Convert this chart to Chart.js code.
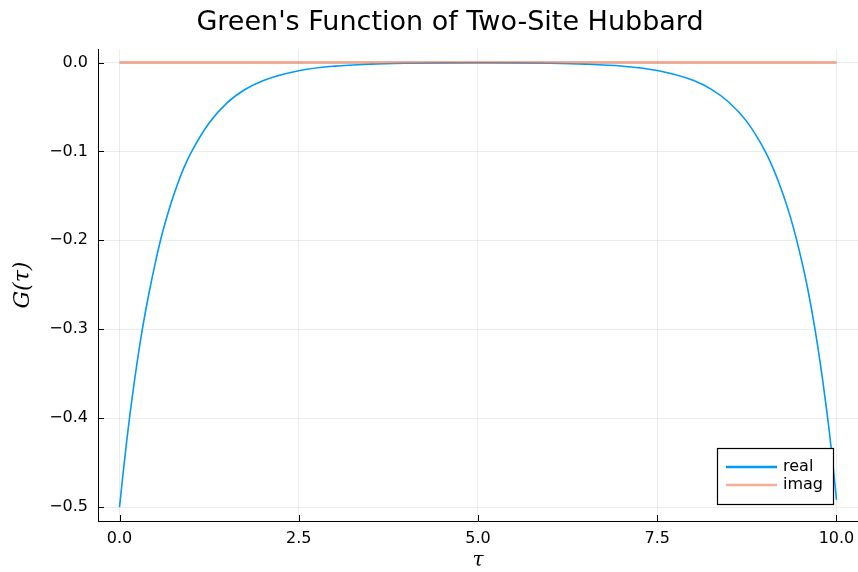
<!DOCTYPE html>
<html>
<head>
<meta charset="utf-8">
<script src="https://cdn.jsdelivr.net/npm/chart.js@4"></script>
<style>
  html, body { margin: 0; padding: 0; background: #fff; }
</style>
</head>
<body>
<canvas id="greenChart" width="858" height="572"></canvas>
<script>
// imaginary time grid and G(tau)
const tau = [0, 0.05, 0.1, 0.15, 0.2, 0.3, 0.4, 0.5, 0.6, 0.7, 0.8, 0.9, 1.0, 1.25, 1.5, 1.75, 2.0, 2.5, 3.0, 3.5, 4.0, 4.5, 5.0,
             5.5, 6.0, 6.5, 7.0, 7.5, 8.0, 8.25, 8.5, 8.75, 9.0, 9.1, 9.2, 9.3, 9.4, 9.5, 9.6, 9.7, 9.8, 9.85, 9.9, 9.95, 10.0];
const realG = [-0.500, -0.462, -0.426, -0.393, -0.363, -0.309, -0.264, -0.225, -0.191, -0.163, -0.139, -0.118, -0.101, -0.068, -0.0454, -0.0304, -0.0204, -0.0092, -0.0041, -0.0018, -0.0008, -0.0004, -0.0003,
               -0.0004, -0.0008, -0.0018, -0.0040, -0.0090, -0.0200, -0.0300, -0.0447, -0.0665, -0.099, -0.116, -0.136, -0.159, -0.186, -0.218, -0.255, -0.300, -0.353, -0.383, -0.415, -0.452, -0.492];
const imagG = [0, 0, 0, 0, 0, 0, 0, 0, 0, 0, 0, 0, 0, 0, 0, 0, 0, 0, 0, 0, 0, 0, 0,
               0, 0, 0, 0, 0, 0, 0, 0, 0, 0, 0, 0, 0, 0, 0, 0, 0, 0, 0, 0, 0, 0];
const xTicks = [0, 2.5, 5, 7.5, 10];
const yTicks = [-0.5, -0.4, -0.3, -0.2, -0.1, 0];

const fmt = v => (v < 0 ? '\u2212' : '') + Math.abs(v).toFixed(1);

// title sits a bit right of the canvas centre in the original
const titleShift = {
    id: 'titleShift',
    afterLayout(chart) {
        if (chart.titleBlock) {
            chart.titleBlock.left += 21;
            chart.titleBlock.right += 21;
        }
    }
};

// Plots.jl style ticks point into the plot
const innerTicks = {
    id: 'innerTicks',
    afterDatasetsDraw(chart) {
        const { ctx, chartArea: a, scales: { x, y } } = chart;
        ctx.save();
        ctx.strokeStyle = '#000';
        ctx.lineWidth = 1;
        ctx.beginPath();
        x.ticks.forEach(t => {
            const px = Math.round(x.getPixelForValue(t.value)) + 0.5;
            ctx.moveTo(px, a.bottom);
            ctx.lineTo(px, a.bottom - 6);
        });
        y.ticks.forEach(t => {
            const py = Math.round(y.getPixelForValue(t.value)) + 0.5;
            ctx.moveTo(a.left, py);
            ctx.lineTo(a.left + 6, py);
        });
        ctx.stroke();
        ctx.restore();
    }
};

// legend box in the bottom right corner of the plot area
const cornerLegend = {
    id: 'cornerLegend',
    afterDraw(chart) {
        const { ctx, chartArea: a } = chart;
        const w = 116, h = 56;
        const left = a.right - 25 - w, top = a.bottom - 17 - h;
        ctx.save();
        ctx.fillStyle = '#fff';
        ctx.fillRect(left, top, w, h);
        ctx.strokeStyle = '#000';
        ctx.lineWidth = 1.2;
        ctx.strokeRect(left + 0.5, top + 0.5, w, h);
        ctx.font = '16px "DejaVu Sans"';
        ctx.textBaseline = 'middle';
        chart.data.datasets.forEach((ds, i) => {
            const yy = top + 19 + i * 18;
            ctx.strokeStyle = ds.borderColor;
            ctx.lineWidth = 2.5;
            ctx.beginPath();
            ctx.moveTo(left + 9, yy);
            ctx.lineTo(left + 60, yy);
            ctx.stroke();
            ctx.fillStyle = '#000';
            ctx.fillText(ds.label, left + 66, yy);
        });
        ctx.restore();
    }
};

const ctx = document.getElementById('greenChart').getContext('2d');
const greenChart = new Chart(ctx, {
    type: 'line',
    data: {
        datasets: [{
            label: 'real',
            data: tau.map((t, i) => ({ x: t, y: realG[i] })),
            borderColor: 'rgb(0, 154, 250)',
            borderWidth: 1.6,
            pointRadius: 0,
            fill: false,
            cubicInterpolationMode: 'monotone',
            order: 1
        },
        {
            label: 'imag',
            data: tau.map((t, i) => ({ x: t, y: imagG[i] })),
            borderColor: 'rgba(227, 111, 71, 0.55)',
            borderWidth: 3,
            pointRadius: 0,
            fill: false,
            order: 0
        }]
    },
    options: {
        responsive: false,
        animation: false,
        devicePixelRatio: 1,
        layout: { padding: { top: 2, left: 0, right: 0, bottom: 0 } },
        plugins: {
            legend: { display: false },
            tooltip: { enabled: false },
            title: {
                display: true,
                text: "Green's Function of Two-Site Hubbard",
                color: '#000',
                font: { family: 'DejaVu Sans', size: 27, weight: 'normal' },
                padding: { top: 5, bottom: 9.6 }
            }
        },
        scales: {
            x: {
                type: 'linear',
                min: -0.3,
                max: 10.3,
                afterBuildTicks: s => { s.ticks = xTicks.map(v => ({ value: v })); },
                afterFit: s => { s.height = 51; s.paddingLeft = 0; s.paddingRight = 0; },
                grid: { color: 'rgba(0,0,0,0.07)', drawTicks: false },
                border: { color: '#000', width: 1 },
                ticks: {
                    autoSkip: false, maxRotation: 0, padding: 8, color: '#000',
                    font: { family: 'DejaVu Sans', size: 16 },
                    callback: v => fmt(v)
                },
                title: {
                    display: true, text: 'τ', color: '#000', padding: { top: 0, bottom: -1 },
                    font: { family: 'DejaVu Serif', style: 'italic', size: 20 }
                }
            },
            y: {
                min: -0.5157,
                max: 0.0152,
                afterBuildTicks: s => { s.ticks = yTicks.map(v => ({ value: v })); },
                afterFit: s => { s.width = 98; },
                grid: { color: 'rgba(0,0,0,0.07)', drawTicks: false },
                border: { color: '#000', width: 1 },
                ticks: {
                    autoSkip: false, padding: 10, color: '#000',
                    font: { family: 'DejaVu Sans', size: 16 },
                    callback: v => fmt(v)
                },
                title: {
                    display: true, text: 'G(τ)', color: '#000', padding: { top: 10, bottom: 0 },
                    font: { family: 'DejaVu Serif', style: 'italic', size: 22 }
                }
            }
        }
    },
    plugins: [titleShift, innerTicks, cornerLegend]
});
</script>
</body>
</html>
